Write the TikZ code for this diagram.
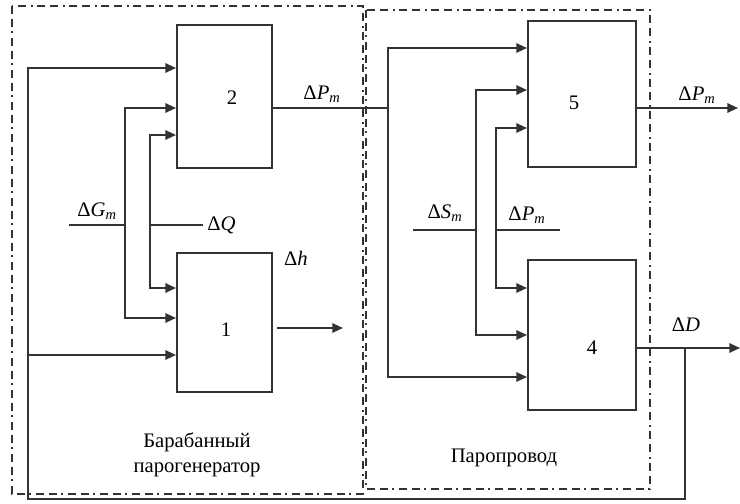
\documentclass[tikz,border=0pt]{standalone}
\usepackage{fontspec}
\setmainfont{Liberation Serif}
\usetikzlibrary{arrows.meta, positioning, fit, calc}
\definecolor{linegray}{HTML}{333333}
\newcommand{\dsig}[2]{Δ\textit{#1}\textsubscript{\textit{#2}}}

\begin{document}
\begin{tikzpicture}[x=0.75pt, y=-0.75pt,
    % Blocks of the model
    blk/.style={draw=linegray, line width=1.5pt, inner sep=0pt},
    num/.style={font=\fontsize{15.5}{17}\selectfont, inner sep=0pt},
    % Signal labels
    sig/.style={font=\fontsize{15.5}{17}\selectfont, inner sep=0pt},
    % Subsystem frames and captions
    area/.style={draw=linegray, line width=1.5pt, dash pattern=on 6pt off 3.5pt on 6pt off 3.5pt on 1.5pt off 3.5pt},
    areacap/.style={font=\fontsize{15.5}{19}\selectfont, align=center, inner sep=0pt},
    wire/.style={draw=linegray, line width=1.5pt},
    arrow/.style={wire, -{Triangle[length=8pt, width=7pt]}}
]
\useasboundingbox (0,0) rectangle (740,504);

% Subsystem frames
\draw[area] (12,6) rectangle (363,494);
\draw[area] (366,10) rectangle (650,489);
\node[areacap] (capdrum) at (197,455) {Барабанный\\парогенератор};
\node[areacap] (cappipe) at (504,458) {Паропровод};

% Blocks
\node[blk, fit={(177,25) (272,168)}] (b2) {};
\node[blk, fit={(177,253) (272,392)}] (b1) {};
\node[blk, fit={(528,21) (636,167)}] (b5) {};
\node[blk, fit={(528,260) (636,410)}] (b4) {};
\node[num] (n2) at (232,98) {2};
\node[num] (n1) at (226,330) {1};
\node[num] (n5) at (574,103) {5};
\node[num] (n4) at (592,348) {4};

% Branch points
\coordinate (fbtop) at (28,68);
\coordinate (fbmid) at (28,355);
\coordinate (fbbot) at (28,499);
\coordinate (gtop) at (125,108);
\coordinate (gin) at (125,225);
\coordinate (gbot) at (125,318);
\coordinate (qtop) at (150,135);
\coordinate (qin) at (150,225);
\coordinate (qbot) at (150,288);
\coordinate (ptop) at (388,48);
\coordinate (pmid) at (388,108);
\coordinate (pbot) at (388,377);
\coordinate (stop) at (476,90);
\coordinate (sin) at (476,230);
\coordinate (sbot) at (476,335);
\coordinate (rtop) at (496,128);
\coordinate (rin) at (496,230);
\coordinate (rbot) at (496,288);
\coordinate (dtap) at (685,348);
\coordinate (hout) at (277,328);

% Free ends of inputs and outputs
\coordinate (gend) at (69,225);
\coordinate (qend) at (203,225);
\coordinate (send) at (413,230);
\coordinate (rend) at (560,230);
\coordinate (hend) at (343,328);
\coordinate (p5end) at (738,108);
\coordinate (dend) at (740,348);

% Drum steam generator
\draw[arrow] (dtap) |- (fbbot) -- (fbtop) -- (fbtop -| b2.west);
\draw[arrow] (fbmid) -- (fbmid -| b1.west);
\draw[arrow] (gbot) -- (gtop) -- (gtop -| b2.west);
\draw[arrow] (gtop) -- (gbot) -- (gbot -| b1.west);
\draw[arrow] (qbot) -- (qtop) -- (qtop -| b2.west);
\draw[arrow] (qtop) -- (qbot) -- (qbot -| b1.west);
\draw[wire] (gend) -- (gin);
\draw[wire] (qin) -- (qend);
\draw[arrow] (hout) -- (hend);
\draw[wire] (b2.east |- pmid) -- (pmid);
\node[sig, above=4pt of gend, xshift=21pt] (lg) {\dsig{G}{m}};
\node[sig, right=3pt of qend] (lq) {Δ\textit{Q}};
\node[sig] (lh) at (296,258) {Δ\textit{h}};
\node[sig] (lp2) at (322,94) {\dsig{P}{m}};

% Steam pipeline
\draw[arrow] (pbot) -- (ptop) -- (ptop -| b5.west);
\draw[arrow] (ptop) -- (pbot) -- (pbot -| b4.west);
\draw[arrow] (sbot) -- (stop) -- (stop -| b5.west);
\draw[arrow] (stop) -- (sbot) -- (sbot -| b4.west);
\draw[arrow] (rbot) -- (rtop) -- (rtop -| b5.west);
\draw[arrow] (rtop) -- (rbot) -- (rbot -| b4.west);
\draw[wire] (send) -- (sin);
\draw[wire] (rin) -- (rend);
\draw[arrow] (b5.east |- p5end) -- (p5end);
\draw[arrow] (b4.east |- dend) -- (dend);
\node[sig] (ls) at (445,213) {\dsig{S}{m}};
\node[sig] (lr) at (527,215) {\dsig{P}{m}};
\node[sig] (lp5) at (697,95) {\dsig{P}{m}};
\node[sig] (ld) at (686,325) {Δ\textit{D}};

\end{tikzpicture}
\end{document}
